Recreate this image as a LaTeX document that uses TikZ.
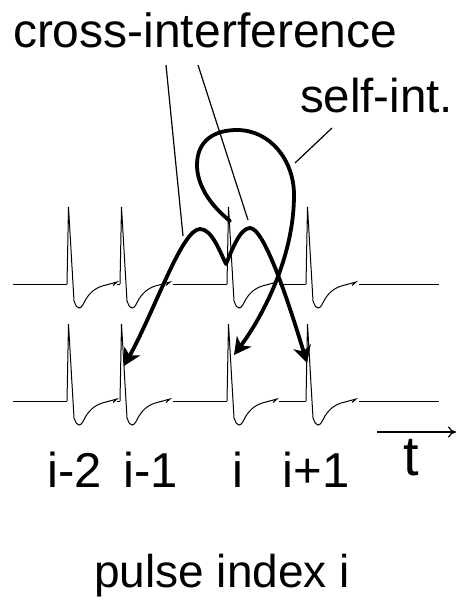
\documentclass[tikz,border=0pt]{standalone}
\usepackage{fontspec}
\setmainfont{Liberation Sans}
\usetikzlibrary{arrows.meta}
\newcommand\onepulse[2]{%
  \begin{scope}[shift={(#1,#2)}]
    \draw[pulseline] (0,0) -- (1.5,-77) -- (7,17)
      .. controls (9,22) and (10,24) .. (12,24)
      .. controls (15,24) and (16,20) .. (19,15)
      .. controls (24,7) and (30,3) .. (39,1)
      -- (50,-2) -- (46,1.5);
  \end{scope}}
\newcommand\pulserow[1]{%
  \draw[pulseline] (13,#1) -- (67,#1);
  \draw[pulseline] (117,#1) -- (120,#1);
  \draw[pulseline] (173,#1) -- (227,#1);
  \draw[pulseline] (279,#1) -- (306,#1);
  \draw[pulseline] (359,#1) -- (439,#1);
  \onepulse{67}{#1}\onepulse{120}{#1}\onepulse{227}{#1}\onepulse{306}{#1}}
\begin{document}
\begin{tikzpicture}[x=1pt,y=-1pt,
  pulseline/.style={line width=1pt,line join=miter},
  thickarrow/.style={line width=3.8pt,line cap=round,line join=round},
  leader/.style={line width=1.2pt},
  lbl/.style={inner sep=0pt,outer sep=0pt},
  bigtip/.tip={Stealth[length=17pt,width=18pt,inset=5pt]}]
\useasboundingbox (0,0) rectangle (457,603);
\fill[white] (0,0) rectangle (457,603);
% pulse trains
\pulserow{284}
\pulserow{401}
% labels
\node[lbl,anchor=base west,font=\fontsize{48}{50}\selectfont] (cross) at (13,47) {cross-interference};
\node[lbl,anchor=base west,font=\fontsize{47.5}{50}\selectfont] (self) at (300,112) {self-int.};
\node[lbl,anchor=base,font=\fontsize{49}{52}\selectfont] (lA) at (75,487) {i-2};
\node[lbl,anchor=base,font=\fontsize{49}{52}\selectfont] (lB) at (151,487) {i-1};
\node[lbl,anchor=base,font=\fontsize{49}{52}\selectfont] (lC) at (238,487) {i};
\node[lbl,anchor=base,font=\fontsize{49}{52}\selectfont] (lD) at (316,487) {i+1};
\node[lbl,anchor=base,font=\fontsize{56}{58}\selectfont] (tl) at (411,475) {t};
\node[lbl,anchor=base,font=\fontsize{46}{48}\selectfont] (idx) at (222,587) {pulse index i};
% coordinates
\coordinate (c1a) at (166,65);
\coordinate (c1b) at (183,236);
\coordinate (c2a) at (198,65);
\coordinate (c2b) at (248,220);
\coordinate (s1a) at (332,128);
\coordinate (s1b) at (295,163);
\coordinate (tipL) at (124,366);
\coordinate (tipM) at (234,355);
\coordinate (tipR) at (307,363);
\coordinate (loopS) at (230,221);
\coordinate (taxA) at (377,432);
\coordinate (taxB) at (456,432);
% leader lines
\draw[leader] (c1a) -- (c1b);
\draw[leader] (c2a) -- (c2b);
\draw[leader] (s1a) -- (s1b);
% cross interference double hump
\draw[thickarrow,{bigtip}-{bigtip}] (tipL)
  .. controls (155,310) and (182,229) .. (200,229)
  .. controls (212,229) and (220,252) .. (226,264)
  .. controls (232,250) and (240,228) .. (250,228)
  .. controls (264,228) and (288,300) .. (tipR);
% self interference loop
\draw[thickarrow,-{bigtip}] (loopS)
  .. controls (210,205) and (197,185) .. (197,165)
  .. controls (197,140) and (215,130) .. (237,130)
  .. controls (270,130) and (294,160) .. (294,195)
  .. controls (294,260) and (260,320) .. (tipM);
% time axis
\draw[line width=1.2pt,-{To[length=8pt,width=11pt]}] (taxA) -- (taxB);
\end{tikzpicture}
\end{document}
